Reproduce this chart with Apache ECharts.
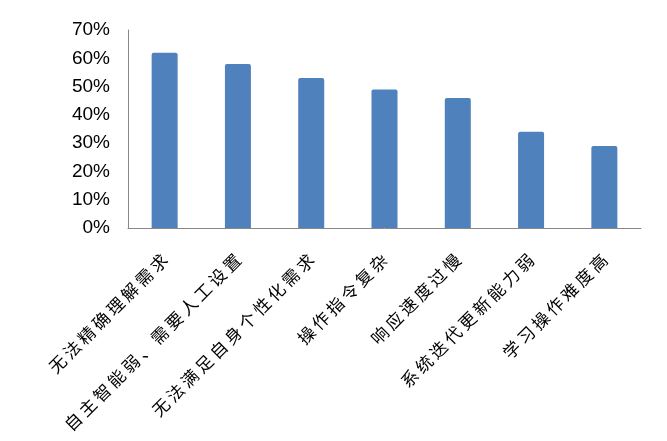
<!DOCTYPE html>
<html><head><meta charset="utf-8">
<script src="https://cdn.jsdelivr.net/npm/echarts@6/dist/echarts.min.js"></script>
<style>html,body{margin:0;padding:0;background:#fff}#c{width:667px;height:441px}</style>
</head><body><div id="c"></div>
<script>
const categories = ['无法精确理解需求','自主智能弱、需要人工设置','无法满足自身个性化需求','操作指令复杂','响应速度过慢','系统迭代更新能力弱','学习操作难度高'];
const values = [62, 58, 53, 49, 46, 34, 29];
const yTicks = [0, 10, 20, 30, 40, 50, 60, 70];
const chart = echarts.init(document.getElementById('c'));
chart.setOption({
  animation: false,
  grid: {left: 128, right: 26, top: 30, bottom: 213, containLabel: false},
  xAxis: {
    type: 'category', data: categories,
    axisLine: {lineStyle: {color: '#888', width: 1}},
    axisTick: {show: false},
    axisLabel: {rotate: 45, interval: 0, color: '#000', fontSize: 17, margin: 29,
      fontFamily: 'Noto Sans CJK SC',
      formatter: s => s.split('').join('\u2009')}
  },
  yAxis: {
    type: 'value', min: yTicks[0], max: yTicks[yTicks.length-1], interval: 10,
    axisLine: {show: true, lineStyle: {color: '#888', width: 1}},
    axisTick: {show: false},
    splitLine: {show: false},
    axisLabel: {color: '#000', fontSize: 19, margin: 18, fontFamily: 'Liberation Sans',
      formatter: v => v + '%'}
  },
  series: [{
    type: 'bar', data: values, barWidth: 26,
    itemStyle: {color: '#4F81BD', borderRadius: [2,2,0,0]}
  }]
});
</script></body></html>
